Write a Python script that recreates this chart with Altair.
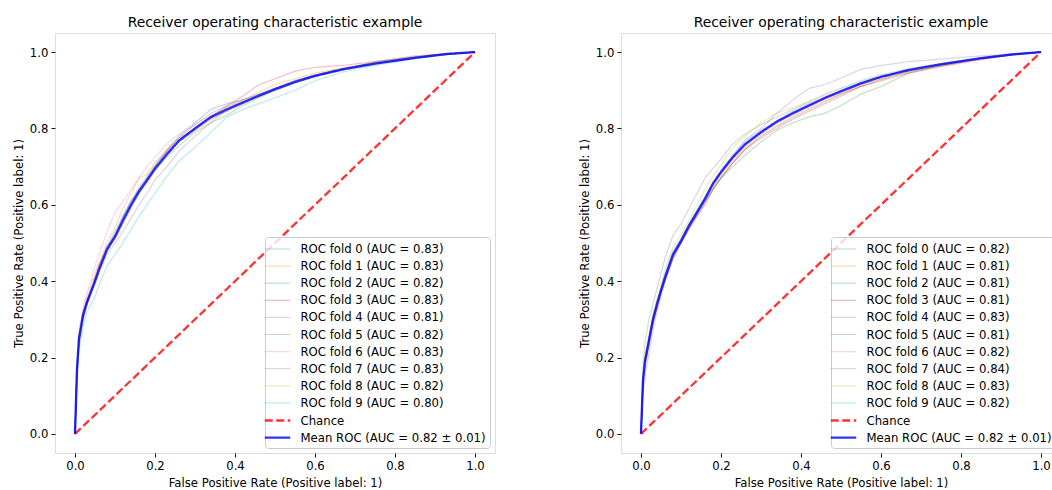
import altair as alt
import pandas as pd

FONT = "DejaVu Sans"
TITLE = "Receiver operating characteristic example"
X_TITLE = "False Positive Rate (Positive label: 1)"
Y_TITLE = "True Positive Rate (Positive label: 1)"
TICKS = [0.0, 0.2, 0.4, 0.6, 0.8, 1.0]

FOLD_COLORS = ["#1f77b4", "#ff7f0e", "#2ca02c", "#d62728", "#9467bd",
               "#8c564b", "#e377c2", "#7f7f7f", "#bcbd22", "#17becf"]
CHANCE_COLOR = "#ff0000"
MEAN_COLOR = "#0000ff"

CHANCE_X = [0.0, 1.0]
CHANCE_Y = [0.0, 1.0]

FPR_GRID = [0, .005, .01, .02, .03, .04, .05, .06, .08, .1, .12, .14, .16, .18, .2,
            .23, .26, .3, .34, .38, .42, .46, .5, .55, .6, .67, .75, .85, .93, 1]

# ---- left panel ----
LEFT_AUC = ["0.83", "0.83", "0.82", "0.83", "0.81", "0.82", "0.83", "0.83", "0.82", "0.80"]
LEFT_MEAN_LABEL = "Mean ROC (AUC = 0.82 ± 0.01)"
LEFT_MEAN = [0, .17, .25, .31, .345, .372, .40, .43, .483, .517, .56, .60, .635, .665, .695,
             .733, .768, .80, .83, .85, .868, .886, .903, .922, .938, .955, .97, .985, .995, 1]
L0 = [0, .15, .24, .31, .35, .38, .40, .44, .49, .53, .57, .61, .64, .67, .70, .74, .78, .815, .85, .865, .875, .89, .905, .925, .94, .955, .97, .985, .995, 1]
L1 = [0, .18, .26, .32, .36, .39, .42, .45, .50, .54, .59, .63, .67, .68, .71, .745, .775, .80, .83, .855, .875, .895, .915, .93, .945, .958, .972, .986, .995, 1]
L2 = [0, .16, .24, .30, .34, .37, .40, .43, .48, .51, .55, .595, .63, .66, .69, .725, .755, .79, .815, .835, .86, .88, .90, .92, .937, .955, .968, .984, .994, 1]
L3 = [0, .17, .25, .31, .35, .37, .41, .44, .49, .52, .56, .60, .64, .66, .70, .74, .77, .80, .83, .86, .885, .915, .93, .95, .96, .965, .975, .988, .996, 1]
L4 = [0, .16, .23, .30, .34, .37, .39, .42, .47, .50, .53, .565, .60, .63, .665, .70, .74, .78, .815, .85, .87, .885, .90, .92, .937, .953, .968, .985, .995, 1]
L5 = [0, .17, .25, .31, .34, .37, .40, .43, .48, .515, .555, .59, .63, .66, .69, .73, .765, .795, .825, .845, .865, .885, .90, .92, .935, .955, .975, .99, .996, 1]
L6 = [0, .18, .27, .33, .37, .40, .44, .47, .53, .58, .61, .64, .67, .70, .725, .76, .785, .81, .835, .855, .87, .885, .90, .918, .935, .955, .97, .985, .995, 1]
L7 = [0, .16, .25, .32, .35, .38, .41, .44, .49, .52, .57, .61, .645, .675, .705, .745, .775, .81, .84, .86, .875, .89, .905, .925, .94, .958, .972, .986, .995, 1]
L8 = [0, .17, .25, .30, .34, .37, .40, .43, .48, .51, .55, .595, .63, .66, .69, .73, .765, .795, .825, .845, .865, .882, .90, .92, .937, .955, .97, .985, .995, 1]
L9 = [0, .14, .22, .28, .32, .34, .36, .39, .44, .47, .50, .535, .57, .60, .63, .675, .715, .75, .79, .83, .85, .865, .88, .90, .925, .948, .965, .982, .994, 1]
LEFT_FOLDS = [L0, L1, L2, L3, L4, L5, L6, L7, L8, L9]

# ---- right panel ----
RIGHT_AUC = ["0.82", "0.81", "0.81", "0.81", "0.83", "0.81", "0.82", "0.84", "0.83", "0.82"]
RIGHT_MEAN_LABEL = "Mean ROC (AUC = 0.82 ± 0.01)"
RIGHT_MEAN = [0, .14, .19, .245, .30, .34, .375, .41, .47, .505, .545, .58, .615, .655, .685,
              .725, .758, .79, .818, .84, .86, .88, .897, .918, .935, .953, .968, .984, .994, 1]
R0 = [0, .13, .19, .25, .30, .34, .38, .41, .47, .51, .55, .585, .62, .66, .69, .73, .765, .795, .82, .845, .865, .88, .90, .92, .935, .953, .968, .984, .994, 1]
R1 = [0, .14, .18, .24, .29, .33, .37, .40, .46, .50, .54, .575, .61, .645, .675, .715, .75, .785, .81, .835, .855, .875, .89, .912, .93, .95, .965, .982, .993, 1]
R2 = [0, .15, .20, .25, .31, .35, .38, .41, .47, .50, .54, .575, .61, .64, .67, .70, .73, .765, .795, .815, .83, .84, .86, .89, .91, .945, .965, .985, .995, 1]
R3 = [0, .13, .18, .23, .29, .33, .37, .40, .46, .50, .54, .57, .60, .64, .67, .71, .745, .775, .80, .825, .845, .865, .885, .91, .925, .945, .962, .98, .993, 1]
R4 = [0, .10, .15, .21, .27, .32, .36, .40, .46, .50, .54, .58, .62, .66, .69, .73, .77, .80, .84, .875, .905, .915, .932, .955, .965, .975, .982, .99, .996, 1]
R5 = [0, .14, .19, .24, .29, .33, .37, .40, .46, .50, .535, .57, .605, .64, .67, .71, .745, .78, .805, .83, .85, .87, .89, .91, .928, .948, .964, .982, .993, 1]
R6 = [0, .12, .18, .25, .30, .34, .38, .41, .47, .51, .55, .585, .62, .655, .685, .725, .76, .79, .82, .84, .86, .88, .895, .915, .935, .953, .968, .984, .994, 1]
R7 = [0, .18, .24, .30, .34, .38, .42, .46, .52, .55, .59, .63, .67, .695, .72, .76, .785, .81, .83, .85, .87, .89, .905, .925, .94, .957, .97, .985, .994, 1]
R8 = [0, .15, .21, .26, .31, .35, .39, .43, .49, .52, .56, .60, .64, .675, .705, .75, .78, .815, .84, .855, .87, .885, .90, .92, .937, .955, .97, .985, .995, 1]
R9 = [0, .14, .19, .25, .30, .34, .38, .42, .48, .51, .55, .585, .62, .655, .685, .725, .76, .79, .815, .84, .86, .88, .90, .92, .936, .953, .968, .984, .994, 1]
RIGHT_FOLDS = [R0, R1, R2, R3, R4, R5, R6, R7, R8, R9]

LABEL_SIZE = 11.7
TITLE_SIZE = 13.9


def panel(folds, aucs, mean, mean_label):
    labels = [f"ROC fold {i} (AUC = {a})" for i, a in enumerate(aucs)]
    domain = labels + ["Chance", mean_label]

    fold_rows = []
    for lab, tpr in zip(labels, folds):
        for i, (fx, ty) in enumerate(zip(FPR_GRID, tpr)):
            fold_rows.append({"fpr": fx, "tpr": ty, "series": lab, "i": i})
    chance_rows = [{"fpr": a, "tpr": b, "series": "Chance", "i": i}
                   for i, (a, b) in enumerate(zip(CHANCE_X, CHANCE_Y))]
    mean_rows = [{"fpr": a, "tpr": b, "series": mean_label, "i": i}
                 for i, (a, b) in enumerate(zip(FPR_GRID, mean))]

    legend = alt.Legend(
        title=None, orient="bottom-right", offset=5,
        symbolType="M-1.7,0L1.7,0", symbolSize=225,
        labelFontSize=LABEL_SIZE, labelFont=FONT, labelColor="black", labelLimit=400,
        labelOffset=14, rowPadding=1.1,
        fillColor="rgba(255,255,255,0.8)", strokeColor="#cccccc",
        cornerRadius=3, padding=3.5,
    )
    x_axis = alt.Axis(values=TICKS, format=".1f", grid=False, domain=False,
                      tickColor="black", tickSize=4.1, tickWidth=0.9,
                      labelColor="black", labelFontSize=LABEL_SIZE, labelFont=FONT,
                      labelPadding=3, labelFlush=False,
                      title=X_TITLE, titleFont=FONT, titleFontSize=LABEL_SIZE,
                      titleFontWeight="normal", titleColor="black", titlePadding=5.5)
    y_axis = alt.Axis(values=TICKS, format=".1f", grid=False, domain=False,
                      tickColor="black", tickSize=4.1, tickWidth=0.9,
                      labelColor="black", labelFontSize=LABEL_SIZE, labelFont=FONT,
                      labelPadding=3, labelFlush=False,
                      title=Y_TITLE, titleFont=FONT, titleFontSize=LABEL_SIZE,
                      titleFontWeight="normal", titleColor="black", titlePadding=5)

    enc = dict(
        x=alt.X("fpr:Q", scale=alt.Scale(domain=[-0.05, 1.05], nice=False, zero=False), axis=x_axis),
        y=alt.Y("tpr:Q", scale=alt.Scale(domain=[-0.05, 1.05], nice=False, zero=False), axis=y_axis),
        color=alt.Color("series:N", scale=alt.Scale(domain=domain, range=FOLD_COLORS + [CHANCE_COLOR, MEAN_COLOR]), legend=legend),
        opacity=alt.Opacity("series:N", scale=alt.Scale(type="ordinal", domain=domain, range=[0.3] * 10 + [0.8, 0.8]), legend=legend),
        strokeDash=alt.StrokeDash("series:N", scale=alt.Scale(domain=domain, range=[[1, 0]] * 10 + [[8, 3.5], [1, 0]]), legend=legend),
        strokeWidth=alt.StrokeWidth("series:N", scale=alt.Scale(type="ordinal", domain=domain, range=[1.18] * 10 + [2.36, 2.36]), legend=legend),
        order=alt.Order("i:Q"),
    )

    folds_layer = alt.Chart(pd.DataFrame(fold_rows)).mark_line().encode(**enc)
    chance_layer = alt.Chart(pd.DataFrame(chance_rows)).mark_line().encode(**enc)
    mean_layer = alt.Chart(pd.DataFrame(mean_rows)).mark_line().encode(**enc)

    return alt.layer(folds_layer, chance_layer, mean_layer).properties(
        width=440, height=420,
        title=alt.TitleParams(TITLE, font=FONT, fontSize=TITLE_SIZE, fontWeight="normal",
                              color="black", anchor="middle", offset=3.5),
    )


left = panel(LEFT_FOLDS, LEFT_AUC, LEFT_MEAN, LEFT_MEAN_LABEL)
right = panel(RIGHT_FOLDS, RIGHT_AUC, RIGHT_MEAN, RIGHT_MEAN_LABEL)

# fixed-size canvas: the right panel runs off the picture's edge, as in the reference
chart = alt.hconcat(left, right, spacing=82).resolve_scale(
    color="independent", opacity="independent",
    strokeDash="independent", strokeWidth="independent",
).properties(
    autosize=alt.AutoSizeParams(type="none"),
    padding={"left": 55, "top": 33, "right": 997, "bottom": 457},
).configure_view(stroke="black", strokeWidth=0.9).configure(background="white")

chart.save("out.html", embed_options={"renderer": "svg", "actions": False})
